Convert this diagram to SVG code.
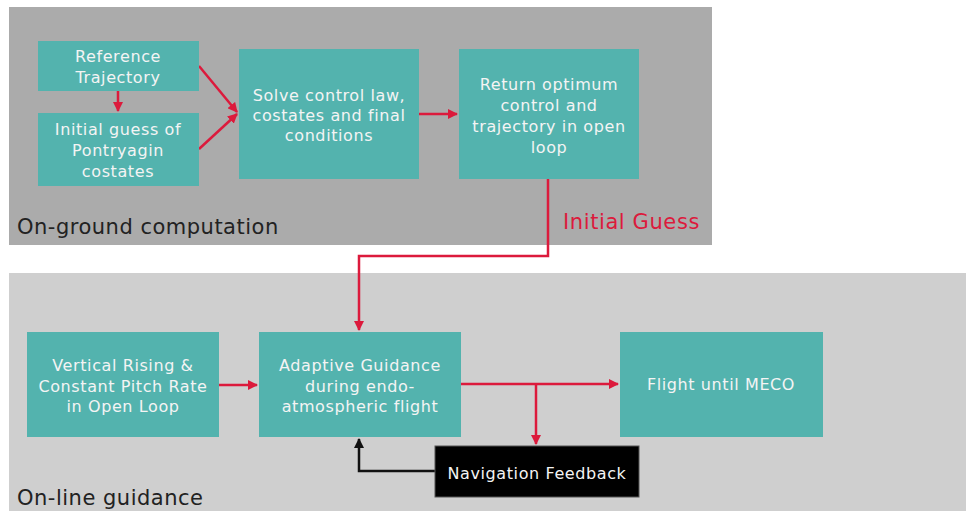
<svg xmlns="http://www.w3.org/2000/svg" width="966" height="511" viewBox="0 0 966 511">
<style>
.box{fill:#53b3ae}
.t{font-family:"DejaVu Sans",Verdana,sans-serif;font-size:16px;letter-spacing:0.6px;fill:#f4f4f4;text-anchor:middle}
.lbl{font-family:"DejaVu Sans",Verdana,sans-serif;font-size:21px;letter-spacing:0.5px;fill:#222}
.r{stroke:#dc1a3c;stroke-width:2.5;fill:none}
.k{stroke:#111;stroke-width:2.5;fill:none}
</style>
<defs>
<marker id="ar" viewBox="0 0 10 10" refX="9" refY="5" markerWidth="4" markerHeight="4" orient="auto" markerUnits="strokeWidth"><path d="M0,0L10,5L0,10z" fill="#dc1a3c"/></marker>
<marker id="ak" viewBox="0 0 10 10" refX="9" refY="5" markerWidth="4" markerHeight="4" orient="auto" markerUnits="strokeWidth"><path d="M0,0L10,5L0,10z" fill="#111"/></marker>
</defs>
<rect width="966" height="511" fill="#fff"/>
<g id="panel-ground">
<rect x="9" y="7" width="703" height="238" fill="#ababab"/>
<text class="lbl" x="17" y="234">On-ground computation</text>
</g>
<g id="panel-online">
<rect x="9" y="273" width="957" height="238" fill="#cfcfcf"/>
<text class="lbl" x="17" y="505">On-line guidance</text>
</g>
<g id="connectors">
<path class="r" d="M118,91V111" marker-end="url(#ar)"/>
<path class="r" d="M199,66L237,112" marker-end="url(#ar)"/>
<path class="r" d="M199,149L237,114" marker-end="url(#ar)"/>
<path class="r" d="M419,114H457" marker-end="url(#ar)"/>
<path class="r" d="M548,179V256H359V330" marker-end="url(#ar)"/>
<path class="r" d="M219,385H257" marker-end="url(#ar)"/>
<path class="r" d="M461,384H618" marker-end="url(#ar)"/>
<path class="r" d="M536,384V444" marker-end="url(#ar)"/>
<path class="k" d="M435,471H359V439" marker-end="url(#ak)"/>
<text x="563" y="229" font-family="DejaVu Sans,Verdana,sans-serif" font-size="21" letter-spacing="0.6" fill="#dc1a3c">Initial Guess</text>
</g>
<g id="ref">
<rect class="box" x="38" y="41" width="161" height="50"/>
<text class="t" x="118" y="62">Reference</text>
<text class="t" x="118" y="83">Trajectory</text>
</g>
<g id="guess">
<rect class="box" x="38" y="113" width="161" height="73"/>
<text class="t" x="118" y="135">Initial guess of</text>
<text class="t" x="118" y="156">Pontryagin</text>
<text class="t" x="118" y="177">costates</text>
</g>
<g id="solve">
<rect class="box" x="239" y="49" width="180" height="130"/>
<text class="t" x="329" y="101">Solve control law,</text>
<text class="t" x="329" y="121">costates and final</text>
<text class="t" x="329" y="141">conditions</text>
</g>
<g id="return">
<rect class="box" x="459" y="49" width="180" height="130"/>
<text class="t" x="549" y="90">Return optimum</text>
<text class="t" x="549" y="111">control and</text>
<text class="t" x="549" y="132">trajectory in open</text>
<text class="t" x="549" y="153">loop</text>
</g>
<g id="vertical">
<rect class="box" x="27" y="332" width="192" height="105"/>
<text class="t" x="123" y="371">Vertical Rising &amp;</text>
<text class="t" x="123" y="392">Constant Pitch Rate</text>
<text class="t" x="123" y="412">in Open Loop</text>
</g>
<g id="adaptive">
<rect class="box" x="259" y="332" width="202" height="105"/>
<text class="t" x="360" y="371">Adaptive Guidance</text>
<text class="t" x="360" y="392">during endo-</text>
<text class="t" x="360" y="412">atmospheric flight</text>
</g>
<g id="meco">
<rect class="box" x="620" y="332" width="203" height="105"/>
<text class="t" x="721" y="390">Flight until MECO</text>
</g>
<g id="nav">
<rect x="435" y="446" width="204" height="51" fill="#000" stroke="#555" stroke-width="1"/>
<text class="t" x="537" y="479" fill="#fff">Navigation Feedback</text>
</g>
</svg>
